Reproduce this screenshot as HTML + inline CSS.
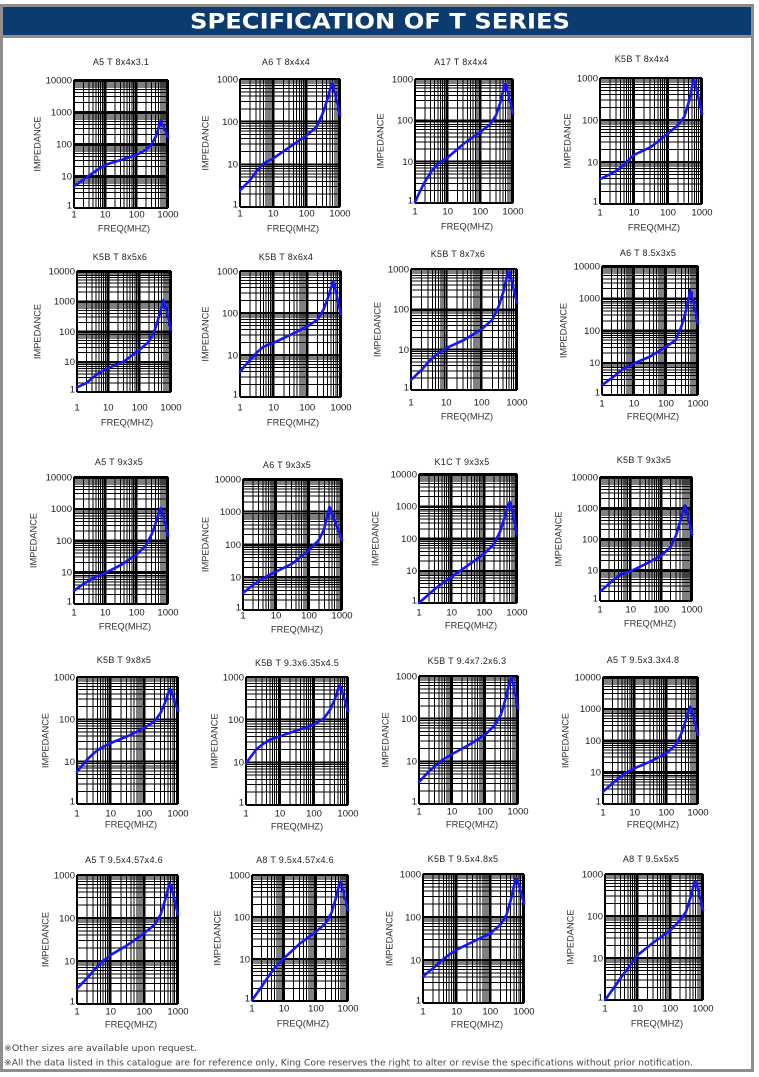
<!DOCTYPE html>
<html><head><meta charset="utf-8"><style>
html,body{margin:0;padding:0;background:#fff;}
svg{display:block;}
.tt{font:9px "Liberation Sans",Arial,sans-serif;fill:#222;text-anchor:middle;letter-spacing:.3px}
.yl{font:9.5px "Liberation Sans",Arial,sans-serif;fill:#1a1a1a;text-anchor:end}
.xl{font:9.5px "Liberation Sans",Arial,sans-serif;fill:#1a1a1a;text-anchor:middle}
.ax{font:9.3px "Liberation Sans",Arial,sans-serif;fill:#333;text-anchor:middle}
.mn{fill:none;stroke:#000;stroke-width:1;vector-effect:non-scaling-stroke;shape-rendering:crispEdges}
.mj{fill:none;stroke:#000;stroke-width:2;vector-effect:non-scaling-stroke;shape-rendering:crispEdges}
.cv{fill:none;stroke:#1515ff;stroke-width:2.6;vector-effect:non-scaling-stroke;stroke-linejoin:round;stroke-linecap:round}
</style></head><body>
<svg width="759" height="1077" viewBox="0 0 759 1077" xmlns="http://www.w3.org/2000/svg">
<defs>
<g id="g4">
<path class="mn" vector-effect="non-scaling-stroke" d="M30.1 0V400M47.7 0V400M60.2 0V400M69.9 0V400M77.8 0V400M84.5 0V400M90.3 0V400M95.4 0V400M130.1 0V400M147.7 0V400M160.2 0V400M169.9 0V400M177.8 0V400M184.5 0V400M190.3 0V400M195.4 0V400M230.1 0V400M247.7 0V400M260.2 0V400M269.9 0V400M277.8 0V400M284.5 0V400M290.3 0V400M295.4 0V400M0 369.9H300M0 352.3H300M0 339.8H300M0 330.1H300M0 322.2H300M0 315.5H300M0 309.7H300M0 304.6H300M0 269.9H300M0 252.3H300M0 239.8H300M0 230.1H300M0 222.2H300M0 215.5H300M0 209.7H300M0 204.6H300M0 169.9H300M0 152.3H300M0 139.8H300M0 130.1H300M0 122.2H300M0 115.5H300M0 109.7H300M0 104.6H300M0 69.9H300M0 52.3H300M0 39.8H300M0 30.1H300M0 22.2H300M0 15.5H300M0 9.7H300M0 4.6H300"/>
<path class="mj" vector-effect="non-scaling-stroke" d="M0 0V400M100 0V400M200 0V400M300 0V400M0 0H300M0 100H300M0 200H300M0 300H300M0 400H300"/>
</g>
<g id="g3">
<path class="mn" vector-effect="non-scaling-stroke" d="M30.1 0V300M47.7 0V300M60.2 0V300M69.9 0V300M77.8 0V300M84.5 0V300M90.3 0V300M95.4 0V300M130.1 0V300M147.7 0V300M160.2 0V300M169.9 0V300M177.8 0V300M184.5 0V300M190.3 0V300M195.4 0V300M230.1 0V300M247.7 0V300M260.2 0V300M269.9 0V300M277.8 0V300M284.5 0V300M290.3 0V300M295.4 0V300M0 269.9H300M0 252.3H300M0 239.8H300M0 230.1H300M0 222.2H300M0 215.5H300M0 209.7H300M0 204.6H300M0 169.9H300M0 152.3H300M0 139.8H300M0 130.1H300M0 122.2H300M0 115.5H300M0 109.7H300M0 104.6H300M0 69.9H300M0 52.3H300M0 39.8H300M0 30.1H300M0 22.2H300M0 15.5H300M0 9.7H300M0 4.6H300"/>
<path class="mj" vector-effect="non-scaling-stroke" d="M0 0V300M100 0V300M200 0V300M300 0V300M0 0H300M0 100H300M0 200H300M0 300H300"/>
</g>
</defs>

<rect x="0" y="0" width="759" height="1077" fill="#fff"/>
<rect x="1.5" y="5.5" width="751" height="1065" fill="none" stroke="#8e8e8e" stroke-width="3"/>
<rect x="3" y="7" width="748" height="28" fill="#0b3b6f"/>
<rect x="3" y="35" width="748" height="3" fill="#8e8e8e"/>
<text x="190" y="28.5" textLength="380" lengthAdjust="spacingAndGlyphs" style="font:bold 21px 'DejaVu Sans','Liberation Sans',sans-serif;fill:#fff">SPECIFICATION OF T SERIES</text>

<!-- Chart 1 -->
<text class="tt" x="121" y="65">A5 T 8x4x3.1</text>
<text class="yl" x="72" y="83.4">10000</text><text class="yl" x="72" y="115.4">1000</text><text class="yl" x="72" y="147.4">100</text><text class="yl" x="72" y="179.4">10</text><text class="yl" x="72" y="208.5">1</text>
<text class="xl" x="74" y="217.4">1</text><text class="xl" x="105.3" y="217.4">10</text><text class="xl" x="136.7" y="217.4">100</text><text class="xl" x="168" y="217.4">1000</text>
<text class="ax" x="124" y="231.4">FREQ(MHZ)</text>
<text class="ax" dy="0.35em" transform="translate(37,144) rotate(-90)">IMPEDANCE</text>
<svg x="74" y="80" width="94" height="128" viewBox="0 0 300 400" preserveAspectRatio="none" overflow="visible"><use href="#g4"/><polyline class="cv" vector-effect="non-scaling-stroke" transform="matrix(1 0 0 -1 0 400)" points="0,68 15,78 30,89 50,103 70,116 100,135 150,150 200,166 230,182 248,200 262,225 271,255 277,274 281,264 300,221"/></svg>

<!-- Chart 2 -->
<text class="tt" x="286" y="65">A6 T 8x4x4</text>
<text class="yl" x="238" y="82.4">1000</text><text class="yl" x="238" y="125.1">100</text><text class="yl" x="238" y="167.7">10</text><text class="yl" x="238" y="207.5">1</text>
<text class="xl" x="240" y="216.4">1</text><text class="xl" x="273.3" y="216.4">10</text><text class="xl" x="306.7" y="216.4">100</text><text class="xl" x="340" y="216.4">1000</text>
<text class="ax" x="293" y="231.4">FREQ(MHZ)</text>
<text class="ax" dy="0.35em" transform="translate(205,143) rotate(-90)">IMPEDANCE</text>
<svg x="240" y="79" width="100" height="128" viewBox="0 0 300 300" preserveAspectRatio="none" overflow="visible"><use href="#g3"/><polyline class="cv" vector-effect="non-scaling-stroke" transform="matrix(1 0 0 -1 0 300)" points="0,39 15,51 30,63 50,84 70,102 100,114 150,141 200,168 230,188 248,219 262,252 271,278 277,290 281,280 300,215"/></svg>

<!-- Chart 3 -->
<text class="tt" x="461" y="65">A17 T 8x4x4</text>
<text class="yl" x="413" y="82.4">1000</text><text class="yl" x="413" y="123.7">100</text><text class="yl" x="413" y="165.1">10</text><text class="yl" x="413" y="203.5">1</text>
<text class="xl" x="415" y="214.4">1</text><text class="xl" x="447.7" y="214.4">10</text><text class="xl" x="480.3" y="214.4">100</text><text class="xl" x="513" y="214.4">1000</text>
<text class="ax" x="467" y="229.4">FREQ(MHZ)</text>
<text class="ax" dy="0.35em" transform="translate(380,141) rotate(-90)">IMPEDANCE</text>
<svg x="415" y="79" width="98" height="124" viewBox="0 0 300 300" preserveAspectRatio="none" overflow="visible"><use href="#g3"/><polyline class="cv" vector-effect="non-scaling-stroke" transform="matrix(1 0 0 -1 0 300)" points="0,2 15,28 30,51 50,76 70,95 100,110 150,144 200,172 230,190 248,212 262,245 271,275 277,289 281,278 300,217"/></svg>

<!-- Chart 4 -->
<text class="tt" x="642" y="62">K5B T 8x4x4</text>
<text class="yl" x="598" y="81.4">1000</text><text class="yl" x="598" y="123.4">100</text><text class="yl" x="598" y="165.4">10</text><text class="yl" x="598" y="204.5">1</text>
<text class="xl" x="600" y="215.4">1</text><text class="xl" x="634" y="215.4">10</text><text class="xl" x="668" y="215.4">100</text><text class="xl" x="702" y="215.4">1000</text>
<text class="ax" x="654" y="230.4">FREQ(MHZ)</text>
<text class="ax" dy="0.35em" transform="translate(567,141) rotate(-90)">IMPEDANCE</text>
<svg x="600" y="78" width="102" height="126" viewBox="0 0 300 300" preserveAspectRatio="none" overflow="visible"><use href="#g3"/><polyline class="cv" vector-effect="non-scaling-stroke" transform="matrix(1 0 0 -1 0 300)" points="0,59 30,71 50,80 70,93 100,117 150,136 200,168 230,188 248,208 262,245 271,280 276,297 281,285 300,215"/></svg>

<!-- Chart 5 -->
<text class="tt" x="120" y="260">K5B T 8x5x6</text>
<text class="yl" x="75" y="274.4">10000</text><text class="yl" x="75" y="304.7">1000</text><text class="yl" x="75" y="334.9">100</text><text class="yl" x="75" y="365.2">10</text><text class="yl" x="75" y="392.5">1</text>
<text class="xl" x="77" y="410.4">1</text><text class="xl" x="108.3" y="410.4">10</text><text class="xl" x="139.7" y="410.4">100</text><text class="xl" x="171" y="410.4">1000</text>
<text class="ax" x="127" y="425.4">FREQ(MHZ)</text>
<text class="ax" dy="0.35em" transform="translate(37,331.5) rotate(-90)">IMPEDANCE</text>
<svg x="77" y="271" width="94" height="121" viewBox="0 0 300 400" preserveAspectRatio="none" overflow="visible"><use href="#g4"/><polyline class="cv" vector-effect="non-scaling-stroke" transform="matrix(1 0 0 -1 0 400)" points="0,15 30,30 50,47 70,63 100,79 150,101 200,140 230,167 248,205 262,250 271,285 276,304 281,290 300,205"/></svg>

<!-- Chart 6 -->
<text class="tt" x="286" y="260">K5B T 8x6x4</text>
<text class="yl" x="238" y="274.4">1000</text><text class="yl" x="238" y="316.4">100</text><text class="yl" x="238" y="358.4">10</text><text class="yl" x="238" y="397.5">1</text>
<text class="xl" x="240" y="410.4">1</text><text class="xl" x="273.7" y="410.4">10</text><text class="xl" x="307.3" y="410.4">100</text><text class="xl" x="341" y="410.4">1000</text>
<text class="ax" x="293" y="425.4">FREQ(MHZ)</text>
<text class="ax" dy="0.35em" transform="translate(205,334) rotate(-90)">IMPEDANCE</text>
<svg x="240" y="271" width="101" height="126" viewBox="0 0 300 300" preserveAspectRatio="none" overflow="visible"><use href="#g3"/><polyline class="cv" vector-effect="non-scaling-stroke" transform="matrix(1 0 0 -1 0 300)" points="0,59 15,75 30,88 50,106 70,120 100,129 150,148 200,168 230,184 248,208 262,238 271,262 277,275 281,265 300,195"/></svg>

<!-- Chart 7 -->
<text class="tt" x="458" y="257">K5B T 8x7x6</text>
<text class="yl" x="409" y="272.4">1000</text><text class="yl" x="409" y="312.7">100</text><text class="yl" x="409" y="353.1">10</text><text class="yl" x="409" y="390.5">1</text>
<text class="xl" x="411" y="405.4">1</text><text class="xl" x="446.3" y="405.4">10</text><text class="xl" x="481.7" y="405.4">100</text><text class="xl" x="517" y="405.4">1000</text>
<text class="ax" x="467" y="419.4">FREQ(MHZ)</text>
<text class="ax" dy="0.35em" transform="translate(377,329.5) rotate(-90)">IMPEDANCE</text>
<svg x="411" y="269" width="106" height="121" viewBox="0 0 300 300" preserveAspectRatio="none" overflow="visible"><use href="#g3"/><polyline class="cv" vector-effect="non-scaling-stroke" transform="matrix(1 0 0 -1 0 300)" points="0,25 30,50 50,70 70,87 100,104 150,124 200,151 230,174 248,207 262,245 271,280 277,297 281,285 300,215"/></svg>

<!-- Chart 8 -->
<text class="tt" x="648" y="256">A6 T 8.5x3x5</text>
<text class="yl" x="600" y="269.4">10000</text><text class="yl" x="600" y="301.7">1000</text><text class="yl" x="600" y="333.9">100</text><text class="yl" x="600" y="366.2">10</text><text class="yl" x="600" y="395.5">1</text>
<text class="xl" x="602" y="406.4">1</text><text class="xl" x="634" y="406.4">10</text><text class="xl" x="666" y="406.4">100</text><text class="xl" x="698" y="406.4">1000</text>
<text class="ax" x="653" y="419.4">FREQ(MHZ)</text>
<text class="ax" dy="0.35em" transform="translate(563,330.5) rotate(-90)">IMPEDANCE</text>
<svg x="602" y="266" width="96" height="129" viewBox="0 0 300 400" preserveAspectRatio="none" overflow="visible"><use href="#g4"/><polyline class="cv" vector-effect="non-scaling-stroke" transform="matrix(1 0 0 -1 0 400)" points="0,31 30,52 50,68 70,83 100,98 150,119 200,150 230,170 248,212 262,260 271,300 276,326 281,308 300,222"/></svg>

<!-- Chart 9 -->
<text class="tt" x="119" y="465">A5 T 9x3x5</text>
<text class="yl" x="72" y="480.4">10000</text><text class="yl" x="72" y="512.2">1000</text><text class="yl" x="72" y="543.9">100</text><text class="yl" x="72" y="575.7">10</text><text class="yl" x="72" y="604.5">1</text>
<text class="xl" x="74" y="615.4">1</text><text class="xl" x="105.3" y="615.4">10</text><text class="xl" x="136.7" y="615.4">100</text><text class="xl" x="168" y="615.4">1000</text>
<text class="ax" x="125" y="629.4">FREQ(MHZ)</text>
<text class="ax" dy="0.35em" transform="translate(33,540.5) rotate(-90)">IMPEDANCE</text>
<svg x="74" y="477" width="94" height="127" viewBox="0 0 300 400" preserveAspectRatio="none" overflow="visible"><use href="#g4"/><polyline class="cv" vector-effect="non-scaling-stroke" transform="matrix(1 0 0 -1 0 400)" points="0,42 30,63 50,75 70,86 100,98 150,123 200,156 230,185 248,220 262,258 271,288 277,303 281,292 300,215"/></svg>

<!-- Chart 10 -->
<text class="tt" x="287" y="468">A6 T 9x3x5</text>
<text class="yl" x="241" y="482.4">10000</text><text class="yl" x="241" y="515.2">1000</text><text class="yl" x="241" y="547.9">100</text><text class="yl" x="241" y="580.7">10</text><text class="yl" x="241" y="610.5">1</text>
<text class="xl" x="243" y="618.4">1</text><text class="xl" x="276" y="618.4">10</text><text class="xl" x="309" y="618.4">100</text><text class="xl" x="342" y="618.4">1000</text>
<text class="ax" x="297" y="632.4">FREQ(MHZ)</text>
<text class="ax" dy="0.35em" transform="translate(205,544.5) rotate(-90)">IMPEDANCE</text>
<svg x="243" y="479" width="99" height="131" viewBox="0 0 300 400" preserveAspectRatio="none" overflow="visible"><use href="#g4"/><polyline class="cv" vector-effect="non-scaling-stroke" transform="matrix(1 0 0 -1 0 400)" points="0,52 30,76 50,90 70,102 100,117 150,142 200,183 230,214 245,245 255,285 262,315 268,298 300,214"/></svg>

<!-- Chart 11 -->
<text class="tt" x="462" y="465">K1C T 9x3x5</text>
<text class="yl" x="417" y="477.4">10000</text><text class="yl" x="417" y="509.7">1000</text><text class="yl" x="417" y="541.9">100</text><text class="yl" x="417" y="574.2">10</text><text class="yl" x="417" y="603.5">1</text>
<text class="xl" x="419" y="615.4">1</text><text class="xl" x="451.7" y="615.4">10</text><text class="xl" x="484.3" y="615.4">100</text><text class="xl" x="517" y="615.4">1000</text>
<text class="ax" x="471" y="628.4">FREQ(MHZ)</text>
<text class="ax" dy="0.35em" transform="translate(375,538.5) rotate(-90)">IMPEDANCE</text>
<svg x="419" y="474" width="98" height="129" viewBox="0 0 300 400" preserveAspectRatio="none" overflow="visible"><use href="#g4"/><polyline class="cv" vector-effect="non-scaling-stroke" transform="matrix(1 0 0 -1 0 400)" points="0,0 30,27 50,45 70,60 100,81 150,117 200,153 230,184 248,221 262,265 272,300 278,314 282,300 300,212"/></svg>

<!-- Chart 12 -->
<text class="tt" x="644" y="463">K5B T 9x3x5</text>
<text class="yl" x="598" y="480.4">10000</text><text class="yl" x="598" y="511.4">1000</text><text class="yl" x="598" y="542.4">100</text><text class="yl" x="598" y="573.4">10</text><text class="yl" x="598" y="601.5">1</text>
<text class="xl" x="600" y="612.4">1</text><text class="xl" x="630.7" y="612.4">10</text><text class="xl" x="661.3" y="612.4">100</text><text class="xl" x="692" y="612.4">1000</text>
<text class="ax" x="650" y="626.4">FREQ(MHZ)</text>
<text class="ax" dy="0.35em" transform="translate(558,539) rotate(-90)">IMPEDANCE</text>
<svg x="600" y="477" width="92" height="124" viewBox="0 0 300 400" preserveAspectRatio="none" overflow="visible"><use href="#g4"/><polyline class="cv" vector-effect="non-scaling-stroke" transform="matrix(1 0 0 -1 0 400)" points="0,30 30,56 50,73 70,88 100,96 150,120 200,147 230,174 248,212 262,258 271,292 277,308 281,296 300,215"/></svg>

<!-- Chart 13 -->
<text class="tt" x="124" y="663">K5B T 9x8x5</text>
<text class="yl" x="75" y="680.4">1000</text><text class="yl" x="75" y="722.7">100</text><text class="yl" x="75" y="765.1">10</text><text class="yl" x="75" y="804.5">1</text>
<text class="xl" x="77" y="816.4">1</text><text class="xl" x="110.7" y="816.4">10</text><text class="xl" x="144.3" y="816.4">100</text><text class="xl" x="178" y="816.4">1000</text>
<text class="ax" x="131" y="827.4">FREQ(MHZ)</text>
<text class="ax" dy="0.35em" transform="translate(45,740.5) rotate(-90)">IMPEDANCE</text>
<svg x="77" y="677" width="101" height="127" viewBox="0 0 300 300" preserveAspectRatio="none" overflow="visible"><use href="#g3"/><polyline class="cv" vector-effect="non-scaling-stroke" transform="matrix(1 0 0 -1 0 300)" points="0,76 30,105 50,120 70,132 100,144 150,160 200,180 230,195 248,215 262,240 271,262 276,272 281,263 300,220"/></svg>

<!-- Chart 14 -->
<text class="tt" x="297" y="666">K5B T 9.3x6.35x4.5</text>
<text class="yl" x="244" y="680.4">1000</text><text class="yl" x="244" y="723.1">100</text><text class="yl" x="244" y="765.7">10</text><text class="yl" x="244" y="805.5">1</text>
<text class="xl" x="246" y="816.4">1</text><text class="xl" x="280" y="816.4">10</text><text class="xl" x="314" y="816.4">100</text><text class="xl" x="348" y="816.4">1000</text>
<text class="ax" x="297" y="829.4">FREQ(MHZ)</text>
<text class="ax" dy="0.35em" transform="translate(214,741) rotate(-90)">IMPEDANCE</text>
<svg x="246" y="677" width="102" height="128" viewBox="0 0 300 300" preserveAspectRatio="none" overflow="visible"><use href="#g3"/><polyline class="cv" vector-effect="non-scaling-stroke" transform="matrix(1 0 0 -1 0 300)" points="0,98 30,130 50,143 70,153 100,161 150,175 200,188 230,204 248,224 262,250 271,272 276,280 281,271 300,220"/></svg>

<!-- Chart 15 -->
<text class="tt" x="467" y="664">K5B T 9.4x7.2x6.3</text>
<text class="yl" x="417" y="679.4">1000</text><text class="yl" x="417" y="722.1">100</text><text class="yl" x="417" y="764.7">10</text><text class="yl" x="417" y="804.5">1</text>
<text class="xl" x="419" y="814.4">1</text><text class="xl" x="452" y="814.4">10</text><text class="xl" x="485" y="814.4">100</text><text class="xl" x="518" y="814.4">1000</text>
<text class="ax" x="472" y="827.4">FREQ(MHZ)</text>
<text class="ax" dy="0.35em" transform="translate(385,740) rotate(-90)">IMPEDANCE</text>
<svg x="419" y="676" width="99" height="128" viewBox="0 0 300 300" preserveAspectRatio="none" overflow="visible"><use href="#g3"/><polyline class="cv" vector-effect="non-scaling-stroke" transform="matrix(1 0 0 -1 0 300)" points="0,52 30,76 50,90 70,103 100,117 150,138 200,162 230,185 248,209 263,248 273,282 279,297 284,285 300,224"/></svg>

<!-- Chart 16 -->
<text class="tt" x="643" y="663">A5 T 9.5x3.3x4.8</text>
<text class="yl" x="601" y="680.4">10000</text><text class="yl" x="601" y="712.2">1000</text><text class="yl" x="601" y="743.9">100</text><text class="yl" x="601" y="775.7">10</text><text class="yl" x="601" y="804.5">1</text>
<text class="xl" x="603" y="815.4">1</text><text class="xl" x="634.7" y="815.4">10</text><text class="xl" x="666.3" y="815.4">100</text><text class="xl" x="698" y="815.4">1000</text>
<text class="ax" x="653" y="827.4">FREQ(MHZ)</text>
<text class="ax" dy="0.35em" transform="translate(565,740.5) rotate(-90)">IMPEDANCE</text>
<svg x="603" y="677" width="95" height="127" viewBox="0 0 300 400" preserveAspectRatio="none" overflow="visible"><use href="#g4"/><polyline class="cv" vector-effect="non-scaling-stroke" transform="matrix(1 0 0 -1 0 400)" points="0,39 30,65 50,82 70,97 100,113 150,134 200,160 230,186 248,223 262,265 271,295 276,307 281,293 300,218"/></svg>

<!-- Chart 17 -->
<text class="tt" x="124" y="863">A5 T 9.5x4.57x4.6</text>
<text class="yl" x="75" y="878.4">1000</text><text class="yl" x="75" y="921.4">100</text><text class="yl" x="75" y="964.4">10</text><text class="yl" x="75" y="1004.5">1</text>
<text class="xl" x="77" y="1014.4">1</text><text class="xl" x="110.7" y="1014.4">10</text><text class="xl" x="144.3" y="1014.4">100</text><text class="xl" x="178" y="1014.4">1000</text>
<text class="ax" x="131" y="1027.4">FREQ(MHZ)</text>
<text class="ax" dy="0.35em" transform="translate(45,939.5) rotate(-90)">IMPEDANCE</text>
<svg x="77" y="875" width="101" height="129" viewBox="0 0 300 300" preserveAspectRatio="none" overflow="visible"><use href="#g3"/><polyline class="cv" vector-effect="non-scaling-stroke" transform="matrix(1 0 0 -1 0 300)" points="0,36 30,60 50,78 70,95 100,114 150,137 200,165 230,184 248,207 262,243 271,270 276,281 281,271 300,207"/></svg>

<!-- Chart 18 -->
<text class="tt" x="295" y="863">A8 T 9.5x4.57x4.6</text>
<text class="yl" x="250" y="878.4">1000</text><text class="yl" x="250" y="920.4">100</text><text class="yl" x="250" y="962.4">10</text><text class="yl" x="250" y="1001.5">1</text>
<text class="xl" x="252" y="1011.4">1</text><text class="xl" x="284" y="1011.4">10</text><text class="xl" x="316" y="1011.4">100</text><text class="xl" x="348" y="1011.4">1000</text>
<text class="ax" x="303" y="1026.4">FREQ(MHZ)</text>
<text class="ax" dy="0.35em" transform="translate(217,938) rotate(-90)">IMPEDANCE</text>
<svg x="252" y="875" width="96" height="126" viewBox="0 0 300 300" preserveAspectRatio="none" overflow="visible"><use href="#g3"/><polyline class="cv" vector-effect="non-scaling-stroke" transform="matrix(1 0 0 -1 0 300)" points="0,2 30,34 50,57 70,78 100,102 150,137 200,165 230,185 248,209 262,245 271,273 276,284 281,273 300,216"/></svg>

<!-- Chart 19 -->
<text class="tt" x="463" y="862">K5B T 9.5x4.8x5</text>
<text class="yl" x="421" y="877.4">1000</text><text class="yl" x="421" y="920.4">100</text><text class="yl" x="421" y="963.4">10</text><text class="yl" x="421" y="1003.5">1</text>
<text class="xl" x="423" y="1014.4">1</text><text class="xl" x="456.7" y="1014.4">10</text><text class="xl" x="490.3" y="1014.4">100</text><text class="xl" x="524" y="1014.4">1000</text>
<text class="ax" x="477" y="1027.4">FREQ(MHZ)</text>
<text class="ax" dy="0.35em" transform="translate(389,938.5) rotate(-90)">IMPEDANCE</text>
<svg x="423" y="874" width="101" height="129" viewBox="0 0 300 300" preserveAspectRatio="none" overflow="visible"><use href="#g3"/><polyline class="cv" vector-effect="non-scaling-stroke" transform="matrix(1 0 0 -1 0 300)" points="0,62 30,81 50,95 70,108 100,124 150,143 200,162 230,182 248,205 262,243 271,275 277,290 282,282 300,232"/></svg>

<!-- Chart 20 -->
<text class="tt" x="651" y="862">A8 T 9.5x5x5</text>
<text class="yl" x="603" y="877.4">1000</text><text class="yl" x="603" y="919.4">100</text><text class="yl" x="603" y="961.4">10</text><text class="yl" x="603" y="1000.5">1</text>
<text class="xl" x="605" y="1011.4">1</text><text class="xl" x="637.7" y="1011.4">10</text><text class="xl" x="670.3" y="1011.4">100</text><text class="xl" x="703" y="1011.4">1000</text>
<text class="ax" x="657" y="1026.4">FREQ(MHZ)</text>
<text class="ax" dy="0.35em" transform="translate(570,937) rotate(-90)">IMPEDANCE</text>
<svg x="605" y="874" width="98" height="126" viewBox="0 0 300 300" preserveAspectRatio="none" overflow="visible"><use href="#g3"/><polyline class="cv" vector-effect="non-scaling-stroke" transform="matrix(1 0 0 -1 0 300)" points="0,0 30,32 50,55 70,75 100,107 150,138 200,166 230,190 248,210 262,245 271,272 277,282 282,272 300,214"/></svg>

<!-- Footer -->
<text x="4" y="1051" textLength="193" lengthAdjust="spacingAndGlyphs" style="font:8.5px 'DejaVu Sans','Liberation Sans','Noto Sans CJK JP',sans-serif;fill:#444">※Other sizes are available upon request.</text>
<text x="4" y="1065.5" textLength="689" lengthAdjust="spacingAndGlyphs" style="font:8.5px 'DejaVu Sans','Liberation Sans','Noto Sans CJK JP',sans-serif;fill:#444">※All the data listed in this catalogue are for reference only, King Core reserves the right to alter or revise the specifications without prior notification.</text>
</svg>
</body></html>
